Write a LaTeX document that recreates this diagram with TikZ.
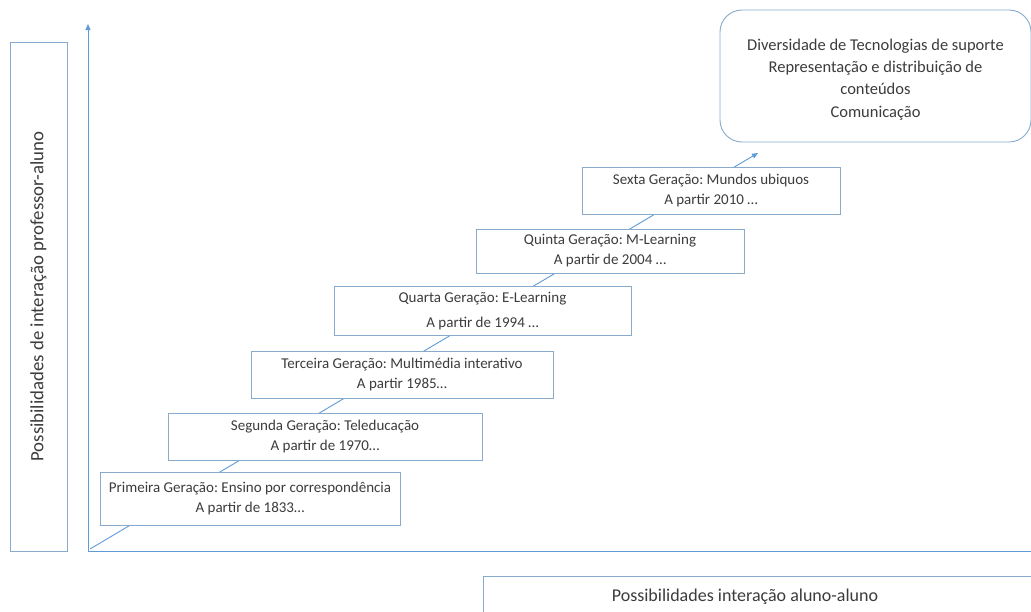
\documentclass[tikz,border=0pt]{standalone}
\usepackage{fontspec}
\setmainfont{Carlito}
\usetikzlibrary{arrows.meta}
\definecolor{boxline}{RGB}{135,170,205}
\definecolor{axisblue}{RGB}{95,155,215}
\definecolor{txt}{RGB}{60,60,60}
\tikzset{
  gen/.style={draw=boxline, line width=0.9pt, fill=white, text=txt, align=center,
    inner sep=0pt, font=\fontsize{15}{20}\selectfont},
  axis/.style={draw=axisblue, line width=0.9pt},
}
\begin{document}
\frenchspacing
\begin{tikzpicture}[x=1pt,y=-1pt]
\useasboundingbox (0,0) rectangle (1031,611);
\begin{scope}
\clip (0,0) rectangle (1031,611);
% axes
\coordinate (o) at (88,551);
\coordinate (ytop) at (88,24);
\coordinate (xend) at (1040,551);
\coordinate (start) at (90,549);
\coordinate (tip) at (758,153);
\draw[axis, -{Triangle[length=6pt,width=5pt]}] (o) -- (ytop);
\draw[axis] (o) -- (xend);
% rising trend, drawn first so the boxes sit on top of it
\draw[axis, -{Triangle[length=6pt,width=5pt]}] (start) -- (tip);
% generation boxes
\node[gen, minimum width=300, minimum height=53] (g1) at (250,498.5)
  {Primeira Geração: Ensino por correspondência\\A partir de 1833…};
\node[gen, minimum width=314, minimum height=47] (g2) at (325,436.5)
  {Segunda Geração: Teleducação\\A partir de 1970…};
\node[gen, minimum width=302, minimum height=47] (g3) at (402,374.5)
  {Terceira Geração: Multimédia interativo\\A partir 1985…};
\node[gen, minimum width=297, minimum height=49, font=\fontsize{15}{25}\selectfont] (g4) at (482.5,311)
  {Quarta Geração: E-Learning\\A partir de 1994 …};
\node[gen, minimum width=268, minimum height=44] (g5) at (610,251)
  {Quinta Geração: M-Learning\\A partir de 2004 …};
\node[gen, minimum width=258, minimum height=47] (g6) at (711,190.5)
  {Sexta Geração: Mundos ubiquos\\A partir 2010 …};
% goal box
\node[gen, rounded corners=22pt, minimum width=311, minimum height=132,
  font=\fontsize{16.5}{22.3}\selectfont] (goal) at (875.5,76)
  {\mbox{}\\[-4.3pt]Diversidade de Tecnologias de suporte\\Representação e distribuição de\\conteúdos\\Comunicação};
% axis titles
\node[gen, minimum width=509, minimum height=57, rotate=90, font=\fontsize{18.8}{22}\selectfont] (ylab) at (38.5,296.5)
  {Possibilidades de interação professor-aluno};
\node[gen, minimum width=552, minimum height=39] (xlab) at (759,595.5) {};
\node[text=txt, font=\fontsize{18}{20}\selectfont, inner sep=0pt, anchor=base] (xlabtext) at (745,601)
  {Possibilidades interação aluno-aluno};
\end{scope}
\end{tikzpicture}
\end{document}
